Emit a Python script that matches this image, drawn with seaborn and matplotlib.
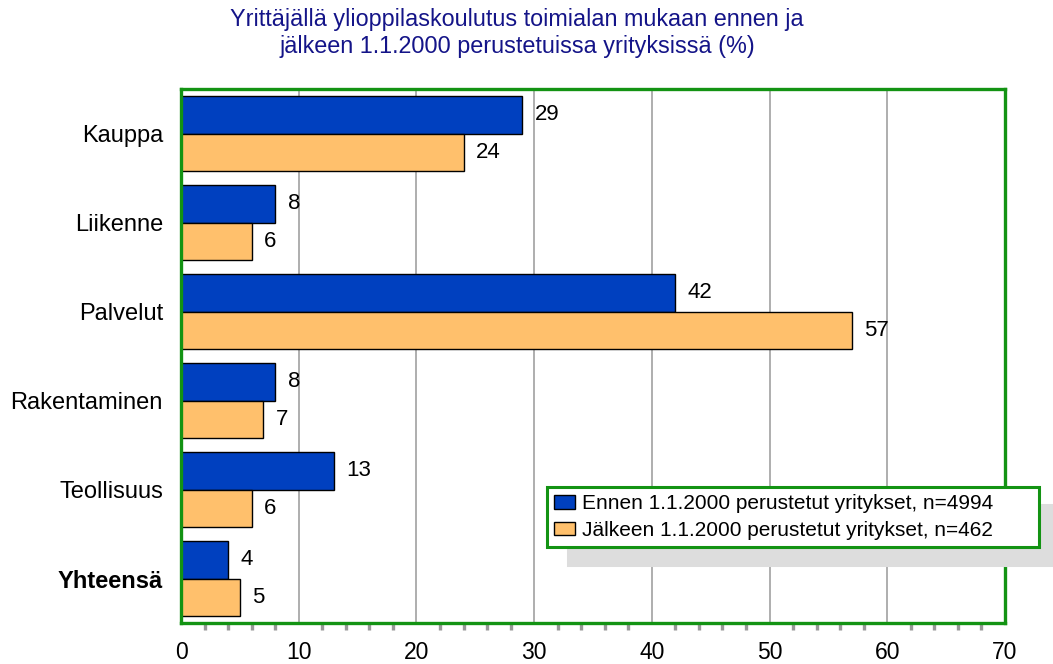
import pandas as pd
import matplotlib
matplotlib.use("Agg")
import matplotlib.pyplot as plt
from matplotlib.ticker import MultipleLocator
import seaborn as sns

# Data
categories = ["Kauppa", "Liikenne", "Palvelut", "Rakentaminen", "Teollisuus", "Yhteensä"]
before_values = [29, 8, 42, 8, 13, 4]
after_values = [24, 6, 57, 7, 6, 5]
series_names = ["Ennen 1.1.2000 perustetut yritykset, n=4994",
                "Jälkeen 1.1.2000 perustetut yritykset, n=462"]
title_text = "Yrittäjällä ylioppilaskoulutus toimialan mukaan ennen ja\njälkeen 1.1.2000 perustetuissa yrityksissä (%)"

df = pd.DataFrame({
    "toimiala": categories * 2,
    "arvo": before_values + after_values,
    "sarja": [series_names[0]] * len(categories) + [series_names[1]] * len(categories),
})

sns.set_style("white")
plt.rcParams["font.family"] = ["Liberation Sans", "DejaVu Sans"]
plt.rcParams["text.color"] = "black"
plt.rcParams["xtick.color"] = "black"
plt.rcParams["ytick.color"] = "black"

green = "#139313"
colors = ["#0040BF", "#FFC06C"]

fig = plt.figure(figsize=(10.53, 6.64), dpi=100)
ax = fig.add_axes([181 / 1053, 1 - 623 / 664, (1005 - 181) / 1053, (623 - 89) / 664])

sns.barplot(data=df, x="arvo", y="toimiala", hue="sarja", orient="h",
            palette=colors, width=0.84, edgecolor="black", linewidth=1,
            saturation=1, ax=ax, legend=True)

# value labels next to the bars
for cont in ax.containers:
    ax.bar_label(cont, padding=9, fontsize=16, color="black")

ax.set_xlim(0, 70)
ax.set_ylim(5.5, -0.5)
ax.set_xlabel("")
ax.set_ylabel("")
ax.xaxis.set_major_locator(MultipleLocator(10))
ax.xaxis.set_minor_locator(MultipleLocator(2))
ax.grid(axis="x", which="major", color="#999999", linewidth=1.1)
ax.set_axisbelow(True)
ax.tick_params(axis="x", which="both", bottom=True)
ax.tick_params(axis="x", which="major", length=0, pad=13, labelsize=16.5, labelcolor="black")
ax.tick_params(axis="x", which="minor", length=5, width=2.4, color="#999999", direction="out")
ax.tick_params(axis="y", length=0, pad=13, labelsize=17, labelcolor="black")
for lab in ax.get_yticklabels():
    if lab.get_text() == "Yhteensä":
        lab.set_fontweight("bold")

# green frame round the plot area
for sp in ax.spines.values():
    sp.set_visible(True)
    sp.set_color(green)
    sp.set_linewidth(2.4)

handles, labels = ax.get_legend_handles_labels()
ax.legend(handles, labels, loc="upper left", mode="expand",
          bbox_to_anchor=(547 / 1053, 1 - 549 / 664, (1039 - 547) / 1053, 62 / 664),
          bbox_transform=fig.transFigure,
          borderaxespad=0, fontsize=15, frameon=True, fancybox=False,
          edgecolor=green, framealpha=1, handlelength=1.0, handleheight=0.6,
          handletextpad=0.35, labelspacing=0.35, borderpad=0.35,
          shadow={"ox": 15, "oy": -13, "facecolor": "#dddddd",
                  "edgecolor": "#dddddd", "alpha": 1})
ax.get_legend().get_frame().set_linewidth(2.2)

fig.text(517 / 1053, 1 - 33 / 664, title_text, ha="center", va="center",
         color="#141488", fontsize=16.8, linespacing=1.25)

fig.savefig("out.png", dpi=100)
